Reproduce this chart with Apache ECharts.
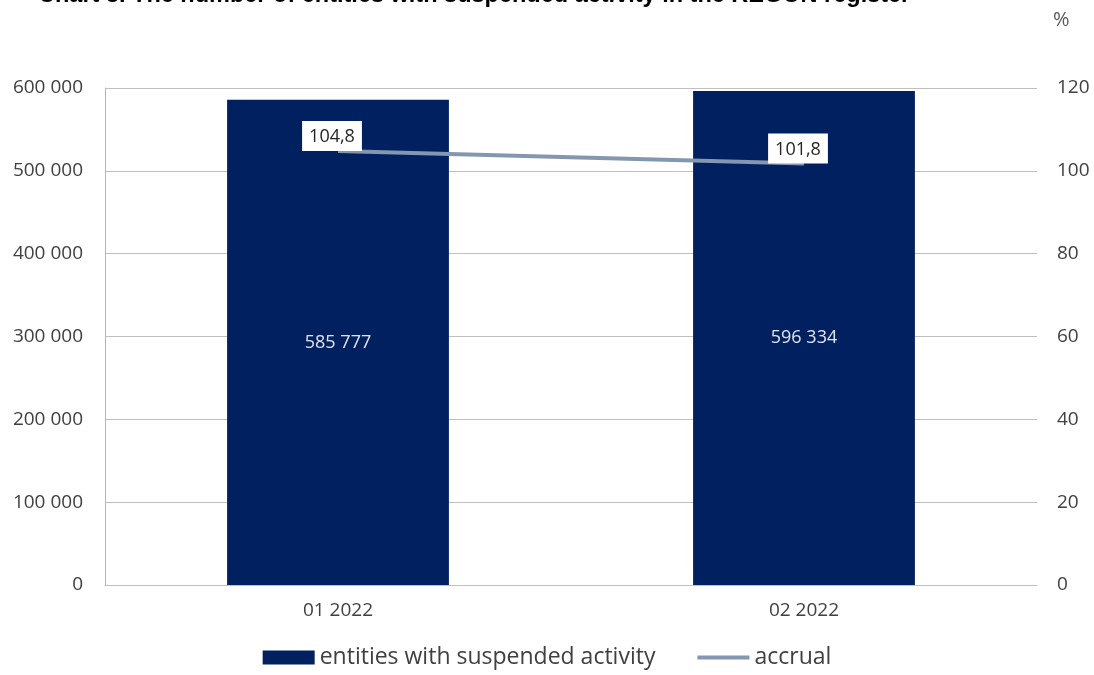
<!DOCTYPE html>
<html><head><meta charset="utf-8">
<script src="https://cdn.jsdelivr.net/npm/echarts@6/dist/echarts.min.js"></script>
<style>html,body{margin:0;padding:0;background:#fff}#c{width:1094px;height:675px}</style>
</head><body><div id="c"></div>
<script>
const categories = ['01 2022', '02 2022'];
const entities = [585777, 596334];
const accrual = [104.8, 101.8];
const leftTicks = [0, 100000, 200000, 300000, 400000, 500000, 600000];
const rightTicks = [0, 20, 40, 60, 80, 100, 120];
const titleText = 'Chart 3. The number of entities with suspended activity in the REGON register';

const fmtSpace = v => String(v).replace(/\B(?=(\d{3})+(?!\d))/g, ' ');
const fmtComma = v => v.toFixed(1).replace('.', ',');
const font = 'Open Sans';

const chart = echarts.init(document.getElementById('c'));
chart.setOption({
  animation: false,
  textStyle: {fontFamily: font},
  title: {
    text: titleText, left: 33, top: -21,
    textStyle: {fontFamily: 'Liberation Sans', fontWeight: 'bold', fontSize: 23.5, color: '#000'}
  },
  grid: {left: 105, right: 57, top: 88, bottom: 90, containLabel: false},
  legend: {
    bottom: 1, left: 'center', itemGap: 42, itemWidth: 52, itemHeight: 14,
    textStyle: {fontFamily: font, fontSize: 23, color: '#404040'},
    data: [
      {name: 'entities with suspended activity', icon: 'rect'},
      {name: 'accrual', icon: 'path://M0,0 L52,0 L52,4 L0,4 Z', itemStyle: {color: '#8497b0'}}
    ]
  },
  xAxis: {
    type: 'category', data: categories,
    axisLine: {lineStyle: {color: '#bfbfbf'}},
    axisTick: {show: false},
    axisLabel: {fontSize: 19, color: '#404040', margin: 16}
  },
  yAxis: [
    {
      type: 'value', min: 0, max: 600000, interval: 100000,
      axisLine: {show: true, lineStyle: {color: '#a6b8cc'}},
      axisTick: {show: false},
      splitLine: {lineStyle: {color: '#bfbfbf'}},
      axisLabel: {fontSize: 19, color: '#404040', margin: 22, formatter: v => fmtSpace(v)}
    },
    {
      type: 'value', min: 0, max: 120, interval: 20,
      name: '%', nameLocation: 'end', nameGap: 58,
      nameTextStyle: {fontSize: 20, color: '#595959', align: 'left', padding: [0,0,0,16]},
      axisLine: {show: false}, axisTick: {show: false}, splitLine: {show: false},
      axisLabel: {fontSize: 19, color: '#404040', margin: 20}
    }
  ],
  series: [
    {
      name: 'entities with suspended activity', type: 'bar', data: entities,
      barWidth: '47.6%', yAxisIndex: 0,
      itemStyle: {color: '#00205f'},
      label: {show: true, position: 'inside', color: '#e0e4ec', fontSize: 18, formatter: p => fmtSpace(p.value)}
    },
    {
      name: 'accrual', type: 'line', data: accrual, yAxisIndex: 1,
      symbol: 'circle', symbolSize: 0, showSymbol: true,
      lineStyle: {color: '#8497b0', width: 4},
      itemStyle: {color: '#8497b0'},
      label: {
        show: true, position: 'top', distance: 0, offset: [-6, 0], color: '#262626', fontSize: 18,
        backgroundColor: '#fff', padding: [7, 7, 5, 7],
        formatter: p => fmtComma(p.value)
      }
    }
  ]
});
</script></body></html>
